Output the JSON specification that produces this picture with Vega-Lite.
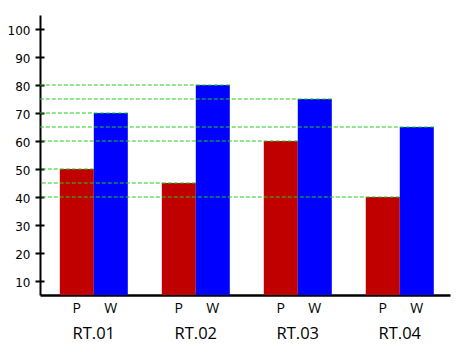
{
  "$schema": "https://vega.github.io/schema/vega-lite/v6.json",
  "width": 410,
  "height": 280,
  "autosize": {"type": "none"},
  "padding": {"left": 40, "top": 15, "right": 7, "bottom": 57},
  "background": "white",
  "config": {"view": {"stroke": null}, "font": "Open Sans"},
  "data": {
    "values": [
      {"rt": "RT.01", "s": "P", "bar": "RT.01|P", "v": 50},
      {"rt": "RT.01", "s": "W", "bar": "RT.01|W", "v": 70},
      {"rt": "RT.02", "s": "P", "bar": "RT.02|P", "v": 45},
      {"rt": "RT.02", "s": "W", "bar": "RT.02|W", "v": 80},
      {"rt": "RT.03", "s": "P", "bar": "RT.03|P", "v": 60},
      {"rt": "RT.03", "s": "W", "bar": "RT.03|W", "v": 75},
      {"rt": "RT.04", "s": "P", "bar": "RT.04|P", "v": 40},
      {"rt": "RT.04", "s": "W", "bar": "RT.04|W", "v": 65}
    ]
  },
  "resolve": {"axis": {"x": "independent", "y": "independent"}},
  "layer": [
    {
      "mark": {"type": "bar", "clip": true},
      "encoding": {
        "x": {
          "field": "bar",
          "type": "nominal",
          "scale": {
            "domain": ["RT.01|P", "RT.01|W", "g1", "RT.02|P", "RT.02|W", "g2", "RT.03|P", "RT.03|W", "g3", "RT.04|P", "RT.04|W"],
            "paddingInner": 0,
            "paddingOuter": 0.53,
            "align": 0.55
          },
          "axis": {
            "orient": "bottom",
            "values": ["RT.01|P", "RT.01|W", "RT.02|P", "RT.02|W", "RT.03|P", "RT.03|W", "RT.04|P", "RT.04|W"],
            "labelExpr": "indexof(datum.value,'|') >= 0 ? split(datum.value,'|')[1] : ''",
            "title": null,
            "ticks": false,
            "tickSize": 0,
            "domainColor": "black",
            "domainWidth": 2.5,
            "labelFont": "Open Sans",
            "labelFontSize": 14,
            "labelColor": "black",
            "labelPadding": 6,
            "labelAngle": 0,
            "grid": false
          }
        },
        "y": {
          "field": "v",
          "type": "quantitative",
          "scale": {"domain": [5, 105], "nice": false, "zero": false},
          "axis": {
            "orient": "left",
            "values": [10, 20, 30, 40, 50, 60, 70, 80, 90, 100],
            "title": null,
            "grid": false,
            "domainColor": "black",
            "domainWidth": 2,
            "tickColor": "black",
            "tickWidth": 2,
            "tickSize": 5,
            "labelFont": "DejaVu Sans",
            "labelFontSize": 12,
            "labelColor": "black",
            "labelPadding": 5,
            "labelOffset": 1.5
          }
        },
        "color": {
          "field": "s",
          "type": "nominal",
          "scale": {"domain": ["P", "W"], "range": ["#C00000", "#0000FF"]},
          "legend": null
        }
      }
    },
    {
      "mark": {"type": "rule", "color": "#1ECC1E", "strokeDash": [4, 2], "strokeWidth": 1},
      "encoding": {
        "x": {
          "field": "bar",
          "type": "nominal",
          "bandPosition": 1,
          "axis": {
            "orient": "bottom",
            "values": ["RT.01|W", "RT.02|W", "RT.03|W", "RT.04|W"],
            "labelExpr": "split(datum.value,'|')[0]",
            "labelOffset": -17,
            "title": null,
            "domain": false,
            "ticks": false,
            "tickSize": 0,
            "labelFont": "Open Sans",
            "labelFontSize": 16.5,
            "labelColor": "black",
            "labelPadding": 30,
            "labelAngle": 0,
            "grid": false
          }
        },
        "x2": {"value": 0},
        "y": {
          "field": "v",
          "type": "quantitative",
          "axis": {
            "orient": "left",
            "values": [10, 20, 30, 40, 50, 60, 70, 80, 90, 100],
            "labels": false,
            "domain": false,
            "tickSize": -4,
            "tickWidth": 2,
            "tickColor": "black",
            "title": null,
            "grid": false
          }
        }
      }
    }
  ]
}
